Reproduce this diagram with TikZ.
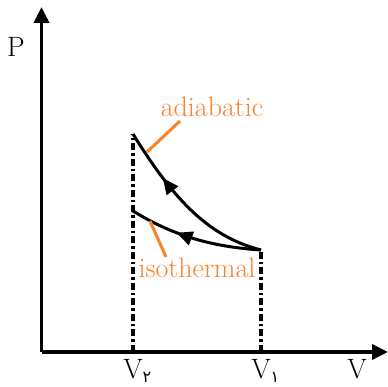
\documentclass[tikz,border=0pt]{standalone}
\usepackage{fontspec}
\newfontfamily\persfont[Script=Arabic]{DejaVu Sans}
\usetikzlibrary{arrows.meta,decorations.markings}

\definecolor{leadorange}{RGB}{247,130,45}
\newcommand{\vlab}[1]{V\rlap{\raisebox{-0.3ex}{\persfont\fontsize{16}{16}\selectfont #1}}}

\tikzset{
  axis/.style={line width=3.6pt,-{Triangle[length=16pt,width=15pt]}},
  level/.style={line width=3.4pt,dash pattern=on 7pt off 3pt on 2.5pt off 3pt},
  process/.style={line width=3pt,postaction={decorate},
    decoration={markings,mark=at position #1 with {\arrow{Triangle[length=16pt,width=14pt]}}}},
  leader/.style={leadorange,line width=3pt},
  lbl/.style={font=\rmfamily\fontsize{28}{30}\selectfont,inner sep=0pt,anchor=base}
}

\begin{document}
\begin{tikzpicture}[x=1pt,y=1pt]
\useasboundingbox (0,0) rectangle (388,387);
% axes
\coordinate (O) at (41.5,35);
\coordinate (Vtip) at (388,35);
\coordinate (Ptip) at (41.5,380);
\draw[axis] (O) -- (Vtip);
\draw[axis] (O) -- (Ptip);
\node[lbl] (P) at (16,330) {P};
\node[lbl] (V) at (357,8) {V};
% states
\coordinate (A) at (261,137);
\coordinate (B) at (133,253);
\coordinate (C) at (133,176);
\coordinate (V1) at (261,35);
\coordinate (V2) at (133,35);
\draw[level] (V2) -- (B);
\draw[level] (V1) -- (A);
\node[lbl] (v2lab) at (133,8) {\vlab{۲}};
\node[lbl] (v1lab) at (261,8) {\vlab{۱}};
% processes
\draw[process=0.7] (A) .. controls (210,150) and (175,185) .. (B);
\draw[process=0.64] (A) .. controls (215,140) and (175,150) .. (C);
% labels
\node[lbl,text=leadorange] (adia) at (212,270) {adiabatic};
\node[lbl,text=leadorange] (iso) at (197,109) {isothermal};
\coordinate (adiaend) at (180,266);
\coordinate (adiacurve) at (147,235);
\coordinate (isoend) at (166,130);
\coordinate (isocurve) at (150,166);
\draw[leader] (adiaend) -- (adiacurve);
\draw[leader] (isoend) -- (isocurve);
\end{tikzpicture}
\end{document}
